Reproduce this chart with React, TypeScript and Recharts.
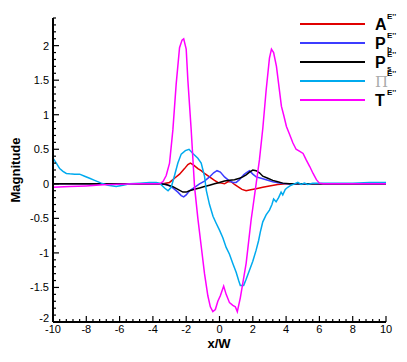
import { LineChart, Line, XAxis, YAxis, Legend, Label } from 'recharts';

// A (red)
const aX = [-10, -4, -3.4, -3.0, -2.7, -2.4, -2.1, -1.9, -1.75, -1.55, -1.3, -1.1, -0.9, -0.6, -0.3, -0.1, 0.1, 0.3, 0.5, 0.7, 0.9, 1.1, 1.35, 1.6, 1.8, 2.2, 2.6, 3.0, 3.5, 4, 10];
const aY = [0, 0, 0, 0.02, 0.08, 0.14, 0.22, 0.28, 0.3, 0.27, 0.22, 0.19, 0.15, 0.1, 0.05, 0.02, 0.01, 0.0, 0.03, 0.03, -0.01, -0.04, -0.08, -0.1, -0.09, -0.07, -0.05, -0.03, -0.01, 0, 0];

// Pb (blue)
const pbX = [-10, -3.4, -3.1, -2.8, -2.5, -2.3, -2.15, -2.0, -1.8, -1.5, -1.2, -0.9, -0.6, -0.35, -0.15, 0.05, 0.3, 0.55, 0.8, 1.0, 1.2, 1.45, 1.6, 1.8, 2.0, 2.2, 2.5, 2.8, 3.2, 3.6, 4, 10];
const pbY = [0, 0, -0.02, -0.06, -0.12, -0.17, -0.19, -0.16, -0.1, -0.05, 0.0, 0.04, 0.1, 0.16, 0.19, 0.17, 0.1, 0.05, 0.02, 0.02, 0.06, 0.13, 0.16, 0.19, 0.14, 0.1, 0.08, 0.06, 0.03, 0.01, 0, 0];

// Ps (black)
const psX = [-10, -3.6, -3.2, -2.8, -2.5, -2.2, -2.0, -1.8, -1.5, -1.2, -0.9, -0.6, -0.3, 0.0, 0.3, 0.6, 0.9, 1.2, 1.4, 1.6, 1.8, 2.0, 2.2, 2.4, 2.6, 2.9, 3.2, 3.5, 3.8, 4.2, 10];
const psY = [0, 0, -0.01, -0.04, -0.08, -0.12, -0.12, -0.1, -0.08, -0.06, -0.04, -0.02, 0.0, 0.02, 0.04, 0.05, 0.06, 0.08, 0.1, 0.13, 0.17, 0.2, 0.19, 0.16, 0.11, 0.08, 0.05, 0.03, 0.01, 0, 0];

// Pi (cyan)
const piX = [-10, -9.8, -9.6, -9.4, -9.2, -9.0, -8.7, -8.4, -8.1, -7.8, -7.5, -7.1, -6.7, -6.2, -5.8, -5.4, -4.8, -4.2, -3.8, -3.6, -3.3, -3.09, -2.9, -2.7, -2.5, -2.3, -2.05, -1.83, -1.6, -1.3, -1.1, -0.9, -0.79, -0.6, -0.39, -0.2, 0, 0.2, 0.4, 0.6, 0.81, 1.0, 1.15, 1.25, 1.45, 1.6, 1.8, 2.0, 2.2, 2.35, 2.45, 2.55, 2.6, 2.8, 3.0, 3.15, 3.25, 3.4, 3.55, 3.7, 3.8, 3.95, 4.1, 4.3, 4.5, 4.7, 4.9, 5.1, 5.3, 5.6, 6, 7, 8, 9, 10];
const piY = [0.37, 0.3, 0.22, 0.18, 0.15, 0.145, 0.14, 0.14, 0.11, 0.08, 0.05, 0.01, -0.02, -0.04, -0.02, 0, 0.01, 0.02, 0.02, 0.01, -0.06, -0.1, -0.05, 0.12, 0.3, 0.43, 0.48, 0.5, 0.44, 0.37, 0.3, 0.11, -0.1, -0.3, -0.47, -0.57, -0.67, -0.78, -0.92, -1.02, -1.16, -1.28, -1.4, -1.47, -1.47, -1.38, -1.25, -1.12, -0.96, -0.82, -0.7, -0.6, -0.55, -0.45, -0.38, -0.3, -0.22, -0.26, -0.2, -0.12, -0.16, -0.08, -0.05, -0.02, 0.0, 0.02, -0.01, 0.01, -0.01, 0.01, 0.01, 0.01, 0.01, 0.02, 0.02];

// T (magenta)
const tX = [-10, -9, -8, -7, -6, -5, -4, -3.6, -3.4, -3.2, -3.0, -2.8, -2.6, -2.4, -2.25, -2.15, -2.0, -1.9, -1.7, -1.5, -1.3, -1.1, -0.9, -0.7, -0.55, -0.4, -0.25, -0.1, 0.05, 0.25, 0.4, 0.6, 0.8, 0.95, 1.07, 1.25, 1.6, 1.9, 2.0, 2.2, 2.4, 2.6, 2.8, 3.0, 3.12, 3.25, 3.42, 3.72, 3.85, 4.02, 4.2, 4.41, 4.6, 4.82, 5.02, 5.2, 5.42, 5.62, 5.82, 6.0, 6.22, 7, 8, 9, 10];
const tY = [-0.05, -0.04, -0.03, -0.015, -0.005, 0, 0, 0, 0.03, 0.12, 0.3, 0.78, 1.45, 1.97, 2.08, 2.1, 1.95, 1.5, 0.78, -0.04, -0.5, -0.9, -1.3, -1.62, -1.78, -1.85, -1.82, -1.7, -1.62, -1.48, -1.6, -1.72, -1.76, -1.78, -1.85, -1.65, -1.15, -0.52, -0.35, 0.0, 0.35, 0.8, 1.35, 1.82, 1.95, 1.9, 1.7, 1.12, 1.0, 0.83, 0.72, 0.59, 0.5, 0.47, 0.44, 0.35, 0.25, 0.15, 0.06, 0.01, 0, 0, 0, 0, 0];

const seriesNames = ['A', 'Pb', 'Ps', 'Pi', 'T'];
const legendMain = ['A', 'P', 'P', 'Π', 'T'];
const legendSub = ['', 'b', 's', '', ''];
const legendSup = "E''";
const colors = ['#e00000', '#3c3cff', '#000000', '#00aaee', '#ff00ff'];

const xMajor = [-10, -8, -6, -4, -2, 0, 2, 4, 6, 8, 10];
const yMajor = [-2, -1.5, -1, -0.5, 0, 0.5, 1, 1.5, 2];

const xTicks: number[] = [];
for (let k = 0; k <= 50; k++) xTicks.push(Math.round((-10 + 0.4 * k) * 10) / 10);
const yTicks: number[] = [];
for (let k = -20; k <= 24; k++) yTicks.push(k / 10);

const toPoints = (xs: number[], ys: number[]) => xs.map((x, i) => ({ x, y: ys[i] }));
const seriesData = [toPoints(aX, aY), toPoints(pbX, pbY), toPoints(psX, psY), toPoints(piX, piY), toPoints(tX, tY)];

const font = '"Liberation Sans", Arial, sans-serif';

const XTick = (props: any) => {
  const { x, y, payload } = props;
  const v = payload.value;
  const major = xMajor.some((m) => Math.abs(m - v) < 1e-6);
  return (
    <g>
      <line x1={x} x2={x} y1={y} y2={y - (major ? 6 : 3)} stroke="#000" strokeWidth={1.2} />
      {major && (
        <text x={x} y={y + 11} textAnchor="middle" fontSize={11} fontFamily={font} fill="#000">
          {v}
        </text>
      )}
    </g>
  );
};

const YTick = (props: any) => {
  const { x, y, payload } = props;
  const v = payload.value;
  const major = yMajor.some((m) => Math.abs(m - v) < 1e-6);
  const lift = v === -2 ? 4 : 0;
  return (
    <g>
      <line x1={x} x2={x + (major ? 6 : 3)} y1={y} y2={y} stroke="#000" strokeWidth={1.2} />
      {major && (
        <text x={x - 4} y={y + 4 - lift} textAnchor="end" fontSize={11} fontFamily={font} fill="#000">
          {v}
        </text>
      )}
    </g>
  );
};

const rowY = [16, 35, 54, 73, 92];

const renderLegend = () => (
  <svg width={112} height={105} style={{ display: 'block', overflow: 'visible' }}>
    {seriesNames.map((name, i) => (
      <g key={name}>
        <line x1={5} x2={70} y1={rowY[i]} y2={rowY[i]} stroke={colors[i]} strokeWidth={2} />
        <text
          x={80}
          y={rowY[i] + 6}
          fontSize={i === 3 ? 15 : 16}
          fontWeight={i === 3 ? 'normal' : 'bold'}
          fontFamily={i === 3 ? 'DejaVu Serif, serif' : font}
          fill={i === 3 ? '#aaa' : '#000'}
        >
          {legendMain[i]}
        </text>
        <text x={92} y={rowY[i] - 5} fontSize={8} fontWeight="bold" fontFamily={font} fill="#000">
          {legendSup}
        </text>
        {legendSub[i] && (
          <text x={92} y={rowY[i] + 9} fontSize={8} fontWeight="bold" fontFamily={font} fill="#000">
            {legendSub[i]}
          </text>
        )}
      </g>
    ))}
  </svg>
);

export default function App() {
  return (
    <div style={{ position: 'absolute', left: 0, top: 0, width: 407, height: 362, background: '#fff' }}>
      <LineChart width={407} height={362} margin={{ top: 18, right: 21, left: 0, bottom: 0 }}>
        <XAxis
          dataKey="x"
          type="number"
          domain={[-10, 10]}
          ticks={xTicks}
          interval={0}
          tick={<XTick />}
          tickSize={0}
          tickMargin={0}
          tickLine={false}
          height={40}
          axisLine={{ stroke: '#000', strokeWidth: 2 }}
          allowDataOverflow
        >
          <Label
            content={() => (
              <text x={219} y={348} textAnchor="middle" fontSize={13} fontWeight="bold" fontFamily={font} fill="#000">
                x/W
              </text>
            )}
          />
        </XAxis>
        <YAxis
          type="number"
          domain={[-2, 2.4]}
          ticks={yTicks}
          interval={0}
          tick={<YTick />}
          tickSize={0}
          tickMargin={0}
          tickLine={false}
          width={53}
          axisLine={{ stroke: '#000', strokeWidth: 2 }}
          allowDataOverflow
        >
          <Label
            content={() => (
              <text
                x={15}
                y={170}
                transform="rotate(-90 15 170)"
                textAnchor="middle"
                dominantBaseline="central"
                fontSize={13}
                fontWeight="bold"
                fontFamily={font}
                fill="#000"
              >
                Magnitude
              </text>
            )}
          />
        </YAxis>
        <Legend
          layout="vertical"
          align="center"
          verticalAlign="middle"
          wrapperStyle={{ left: 295, top: 8, width: 112, height: 105 }}
          content={renderLegend}
        />
        {seriesNames.map((name, i) => (
          <Line
            key={name}
            data={seriesData[i]}
            dataKey="y"
            name={name}
            type="linear"
            stroke={colors[i]}
            strokeWidth={1.5}
            dot={false}
            activeDot={false}
            isAnimationActive={false}
          />
        ))}
      </LineChart>
    </div>
  );
}
